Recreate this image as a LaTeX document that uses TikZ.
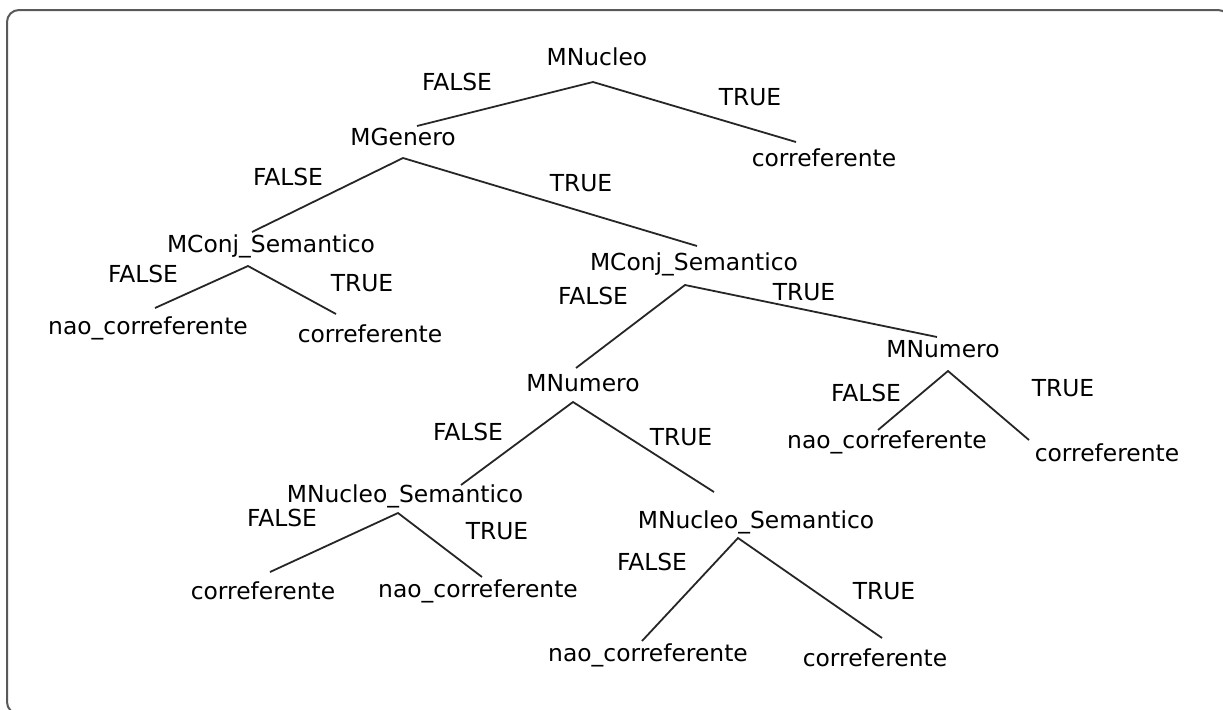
\documentclass[tikz,border=0pt]{standalone}
\usepackage{fontspec}
\setmainfont{DejaVu Sans}
\begin{document}
\begin{tikzpicture}[x=0.5pt,y=-0.5pt,
  lbl/.style={anchor=base,inner sep=0pt,font=\fontsize{11.7pt}{13.5pt}\selectfont},
  edge/.style={line width=0.9pt,draw=black!85}]
\useasboundingbox (0,0) rectangle (1223,709);
\begin{scope}
\clip (0,0) rectangle (1223,709);
\draw[line width=1pt,draw=black!65,rounded corners=6pt] (7,10) rectangle (1230,714);
\end{scope}

% tree nodes
\node[lbl] (root) at (597,65) {MNucleo};
\node[lbl] (gen) at (403,145) {MGenero};
\node[lbl] (c1) at (824,166) {correferente};
\node[lbl] (cjl) at (271,252) {MConj\_Semantico};
\node[lbl] (n1) at (148,334) {nao\_correferente};
\node[lbl] (c2) at (370,342) {correferente};
\node[lbl] (cjr) at (694,270) {MConj\_Semantico};
\node[lbl] (numr) at (943,357) {MNumero};
\node[lbl] (n2) at (887,448) {nao\_correferente};
\node[lbl] (c3) at (1107,461) {correferente};
\node[lbl] (numm) at (583,391) {MNumero};
\node[lbl] (nsl) at (405,502) {MNucleo\_Semantico};
\node[lbl] (c4) at (263,599) {correferente};
\node[lbl] (n3) at (478,597) {nao\_correferente};
\node[lbl] (nsr) at (756,528) {MNucleo\_Semantico};
\node[lbl] (n4) at (648,661) {nao\_correferente};
\node[lbl] (c5) at (875,666) {correferente};

% branch labels
\node[lbl] (f1) at (457,90) {FALSE};
\node[lbl] (t1) at (750,105) {TRUE};
\node[lbl] (f2) at (288,185) {FALSE};
\node[lbl] (t2) at (581,191) {TRUE};
\node[lbl] (f3) at (143,282) {FALSE};
\node[lbl] (t3) at (362,291) {TRUE};
\node[lbl] (f4) at (593,304) {FALSE};
\node[lbl] (t4) at (804,300) {TRUE};
\node[lbl] (f5) at (866,401) {FALSE};
\node[lbl] (t5) at (1063,396) {TRUE};
\node[lbl] (f6) at (468,440) {FALSE};
\node[lbl] (t6) at (681,445) {TRUE};
\node[lbl] (f7) at (282,526) {FALSE};
\node[lbl] (t7) at (497,539) {TRUE};
\node[lbl] (f8) at (652,570) {FALSE};
\node[lbl] (t8) at (884,599) {TRUE};

% fork points under each test and entry points above each child
\coordinate (root-fork) at (593,82);
\coordinate (gen-fork) at (403,158);
\coordinate (cjl-fork) at (248,266);
\coordinate (cjr-fork) at (685,285);
\coordinate (numr-fork) at (948,371);
\coordinate (numm-fork) at (573,402);
\coordinate (nsl-fork) at (398,513);
\coordinate (nsr-fork) at (738,538);

\coordinate (gen-in) at (417,126);
\coordinate (c1-in) at (796,142);
\coordinate (cjl-in) at (252,232);
\coordinate (cjr-in) at (697,246);
\coordinate (n1-in) at (155,308);
\coordinate (c2-in) at (336,314);
\coordinate (numm-in) at (576,368);
\coordinate (numr-in) at (937,337);
\coordinate (n2-in) at (878,430);
\coordinate (c3-in) at (1029,440);
\coordinate (nsl-in) at (461,485);
\coordinate (nsr-in) at (714,492);
\coordinate (c4-in) at (270,572);
\coordinate (n3-in) at (482,577);
\coordinate (n4-in) at (642,641);
\coordinate (c5-in) at (882,638);

% branches
\draw[edge] (gen-in) -- (root-fork) -- (c1-in);
\draw[edge] (cjl-in) -- (gen-fork) -- (cjr-in);
\draw[edge] (n1-in) -- (cjl-fork) -- (c2-in);
\draw[edge] (numm-in) -- (cjr-fork) -- (numr-in);
\draw[edge] (n2-in) -- (numr-fork) -- (c3-in);
\draw[edge] (nsl-in) -- (numm-fork) -- (nsr-in);
\draw[edge] (c4-in) -- (nsl-fork) -- (n3-in);
\draw[edge] (n4-in) -- (nsr-fork) -- (c5-in);
\end{tikzpicture}
\end{document}
